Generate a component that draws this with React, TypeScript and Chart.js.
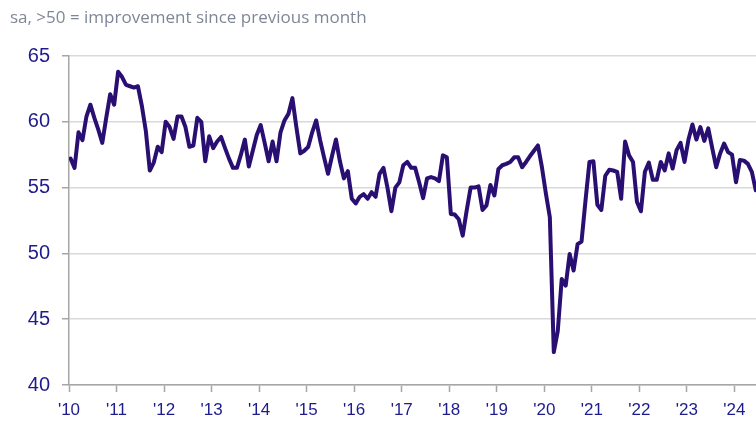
import React, { useEffect, useRef } from "react";
import { Chart, registerables } from "chart.js";

Chart.register(...registerables);

// Monthly index values, Jan 2010 – Jun 2024 (sa, >50 = improvement)
const y2010 = [57.2, 56.5, 59.2, 58.6, 60.4, 61.3, 60.3, 59.4, 58.4, 60.3, 62.1, 61.3];
const y2011 = [63.8, 63.4, 62.8, 62.7, 62.6, 62.7, 61.2, 59.3, 56.3, 56.9, 58.1, 57.7];
const y2012 = [60.0, 59.6, 58.7, 60.4, 60.4, 59.6, 58.1, 58.2, 60.3, 60.0, 57.0, 58.9];
const y2013 = [58.0, 58.5, 58.85, 58.0, 57.2, 56.5, 56.5, 57.5, 58.65, 56.6, 57.8, 59.0];
const y2014 = [59.75, 58.4, 57.0, 58.5, 57.0, 59.2, 60.1, 60.6, 61.8, 59.6, 57.6, 57.8];
const y2015 = [58.1, 59.2, 60.1, 58.6, 57.3, 56.05, 57.4, 58.65, 57.0, 55.7, 56.25, 54.15];
const y2016 = [53.8, 54.3, 54.5, 54.15, 54.65, 54.3, 56.05, 56.5, 55.0, 53.2, 55.0, 55.4];
const y2017 = [56.7, 56.95, 56.5, 56.5, 55.4, 54.2, 55.7, 55.8, 55.7, 55.5, 57.45, 57.3];
const y2018 = [53.0, 52.95, 52.6, 51.35, 53.25, 55.0, 55.0, 55.1, 53.3, 53.65, 55.2, 54.4];
const y2019 = [56.4, 56.7, 56.8, 56.95, 57.3, 57.3, 56.55, 56.95, 57.4, 57.8, 58.2, 56.55];
const y2020 = [54.55, 52.75, 42.5, 44.1, 48.05, 47.55, 49.95, 48.7, 50.7, 50.9, 54.0, 56.95];
const y2021 = [57.0, 53.7, 53.3, 55.9, 56.35, 56.3, 56.2, 54.15, 58.5, 57.45, 56.95, 53.9];
const y2022 = [53.2, 56.2, 56.9, 55.6, 55.6, 56.95, 56.3, 57.6, 56.45, 57.85, 58.4, 56.95];
const y2023 = [58.65, 59.8, 58.65, 59.6, 58.55, 59.5, 58.0, 56.55, 57.6, 58.35, 57.7, 57.5];
const y2024 = [55.4, 57.1, 57.05, 56.8, 56.2, 54.8];

const yearLabels = ["'10", "'11", "'12", "'13", "'14", "'15", "'16", "'17", "'18", "'19", "'20", "'21", "'22", "'23", "'24"];
const subtitle = "sa, >50 = improvement since previous month";

const Y_MIN = 40;
const Y_MAX = 65;
const Y_STEP = 5;
const MONTH_OFFSET = 0.4;
const X_MAX = 173.45;

const values = [
  ...y2010, ...y2011, ...y2012, ...y2013, ...y2014, ...y2015, ...y2016, ...y2017,
  ...y2018, ...y2019, ...y2020, ...y2021, ...y2022, ...y2023, ...y2024,
];

const LABEL_COLOR = "#1e1b8c";
const LINE_COLOR = "#2a0f72";
const AXIS_COLOR = "#a6a6a6";
const GRID_COLOR = "#d9d9d9";

export default function App() {
  const canvasRef = useRef<HTMLCanvasElement | null>(null);

  useEffect(() => {
    const canvas = canvasRef.current;
    if (!canvas) return;
    const points = values.map((v, i) => ({ x: i + MONTH_OFFSET, y: v }));
    const chart = new Chart(canvas, {
      type: "line",
      data: {
        datasets: [
          {
            data: points,
            borderColor: LINE_COLOR,
            borderWidth: 4,
            pointRadius: 0,
            tension: 0,
            borderJoinStyle: "round",
            borderCapStyle: "round",
          },
        ],
      },
      options: {
        animation: false,
        responsive: false,
        devicePixelRatio: 1,
        layout: { padding: { top: 56, left: 0, right: 0, bottom: 0 } },
        plugins: { legend: { display: false }, tooltip: { enabled: false }, title: { display: false } },
        scales: {
          x: {
            type: "linear",
            min: 0,
            max: X_MAX,
            afterBuildTicks: (scale: any) => {
              scale.ticks = yearLabels.map((_, k) => ({ value: k * 12 }));
            },
            afterFit: (scale: any) => {
              scale.height = 36;
            },
            ticks: {
              autoSkip: false,
              maxRotation: 0,
              padding: 8,
              color: LABEL_COLOR,
              font: { family: "'Liberation Sans', Arial, sans-serif", size: 17 },
              callback: (v: any) => yearLabels[Math.round(Number(v) / 12)] ?? "",
            },
            grid: {
              drawOnChartArea: false,
              drawTicks: true,
              tickLength: 7,
              tickColor: AXIS_COLOR,
              tickWidth: 1.5,
            },
            border: { color: AXIS_COLOR, width: 1.5 },
          },
          y: {
            min: Y_MIN,
            max: Y_MAX,
            afterFit: (scale: any) => {
              scale.width = 69;
            },
            ticks: {
              stepSize: Y_STEP,
              padding: 12,
              color: LABEL_COLOR,
              font: { family: "'Liberation Sans', Arial, sans-serif", size: 20 },
            },
            grid: {
              color: GRID_COLOR,
              lineWidth: 1.5,
              tickLength: 7,
              tickColor: AXIS_COLOR,
              tickWidth: 1.5,
            },
            border: { color: AXIS_COLOR, width: 1.5 },
          },
        },
      },
    });
    return () => chart.destroy();
  }, []);

  return (
    <div style={{ position: "absolute", left: 0, top: 0, width: 756, height: 421, background: "#fff", overflow: "hidden" }}>
      <canvas ref={canvasRef} width={756} height={421} style={{ position: "absolute", left: 0, top: 0, width: 756, height: 421 }} />
      <div
        style={{
          position: "absolute",
          left: 10,
          top: 5,
          fontFamily: "'Open Sans', 'Noto Sans', sans-serif",
          fontSize: 17,
          color: "#7f8797",
          whiteSpace: "nowrap",
        }}
      >
        {subtitle}
      </div>
    </div>
  );
}
